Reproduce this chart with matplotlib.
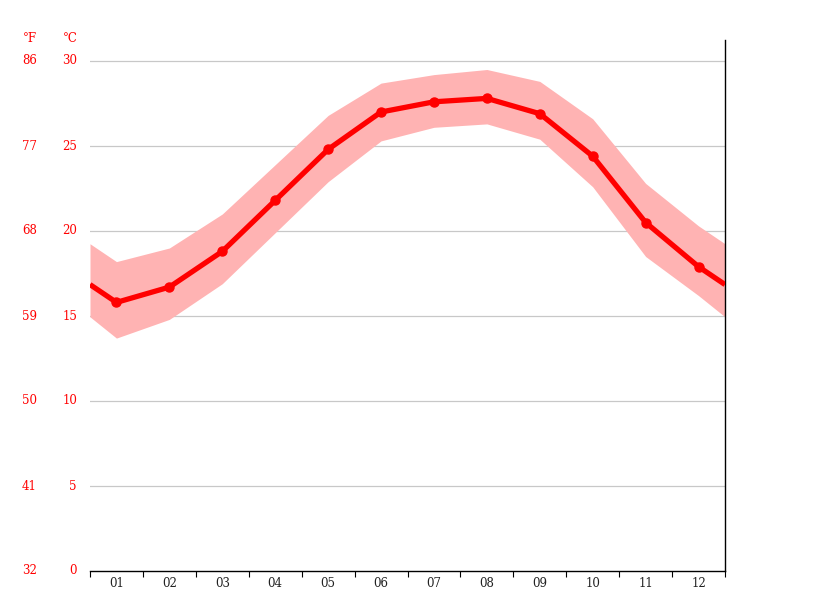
import matplotlib
matplotlib.use("Agg")
import matplotlib.pyplot as plt
import numpy as np

months = ["01", "02", "03", "04", "05", "06", "07", "08", "09", "10", "11", "12"]
t_mean = [15.8, 16.7, 18.8, 21.8, 24.8, 27.0, 27.6, 27.8, 26.9, 24.4, 20.5, 17.9]
t_max = [18.2, 19.0, 21.0, 23.9, 26.8, 28.7, 29.2, 29.5, 28.8, 26.6, 22.8, 20.3]
t_min = [13.7, 14.8, 16.9, 19.9, 22.9, 25.3, 26.1, 26.3, 25.4, 22.6, 18.5, 16.2]
c_ticks = [0, 5, 10, 15, 20, 25, 30]

RED = "#ff0000"
BAND = "#ffb3b3"
FONT = "DejaVu Serif"
FS = 8.5

fig = plt.figure(figsize=(8.15, 6.11), dpi=100)
ax = fig.add_axes([90/815, 40/611, 635/815, 531/611])

n = len(months)
xc = np.arange(n) + 0.5
# extend to the edges, wrapping December/January
def wrap(v):
    e = (v[0] + v[-1]) / 2.0
    return np.concatenate([[e], v, [e]])
xe = np.concatenate([[0], xc, [n]])

ax.fill_between(xe, wrap(np.array(t_min)), wrap(np.array(t_max)), color=BAND, lw=0, zorder=2)
ax.plot(xe, wrap(np.array(t_mean)), color=RED, lw=3.8, zorder=3, solid_capstyle="butt")
ax.plot(xc, t_mean, "o", color=RED, ms=6.5, zorder=4)

ax.set_xlim(0, n)
ax.set_ylim(0, (571-40)/17)

for c in c_ticks[1:]:
    ax.axhline(c, color="#c8c8c8", lw=0.9, zorder=1)

for s in ["top", "left"]:
    ax.spines[s].set_visible(False)
ax.spines["bottom"].set_color("black")
ax.spines["right"].set_color("black")
ax.spines["bottom"].set_linewidth(1.0)
ax.spines["right"].set_linewidth(1.0)

ax.set_xticks(np.arange(n + 1))
ax.set_xticklabels([])
ax.tick_params(axis="x", which="major", length=4, width=0.8, color="black", direction="out")
ax.set_xticks(xc, minor=True)
ax.set_xticklabels(months, minor=True, fontsize=FS, family=FONT, color="#222222")
ax.tick_params(axis="x", which="minor", length=0, pad=4)

ax.set_yticks(c_ticks)
ax.set_yticklabels([])
ax.tick_params(axis="y", length=0)

for c in c_ticks:
    f = int(round(c * 9 / 5 + 32))
    ax.annotate(str(c), xy=(0, c), xycoords=("axes fraction", "data"),
                xytext=(-13, 0), textcoords="offset pixels",
                ha="right", va="center", fontsize=FS, family=FONT, color=RED)
    ax.annotate(str(f), xy=(0, c), xycoords=("axes fraction", "data"),
                xytext=(-53, 0), textcoords="offset pixels",
                ha="right", va="center", fontsize=FS, family=FONT, color=RED)

ax.annotate("°F", xy=(0, 1), xycoords="axes fraction", xytext=(-60, 2),
            textcoords="offset pixels", ha="center", va="center",
            fontsize=FS, family=FONT, color=RED, annotation_clip=False)
ax.annotate("°C", xy=(0, 1), xycoords="axes fraction", xytext=(-20, 2),
            textcoords="offset pixels", ha="center", va="center",
            fontsize=FS, family=FONT, color=RED, annotation_clip=False)

fig.savefig("out.png", dpi=100)
